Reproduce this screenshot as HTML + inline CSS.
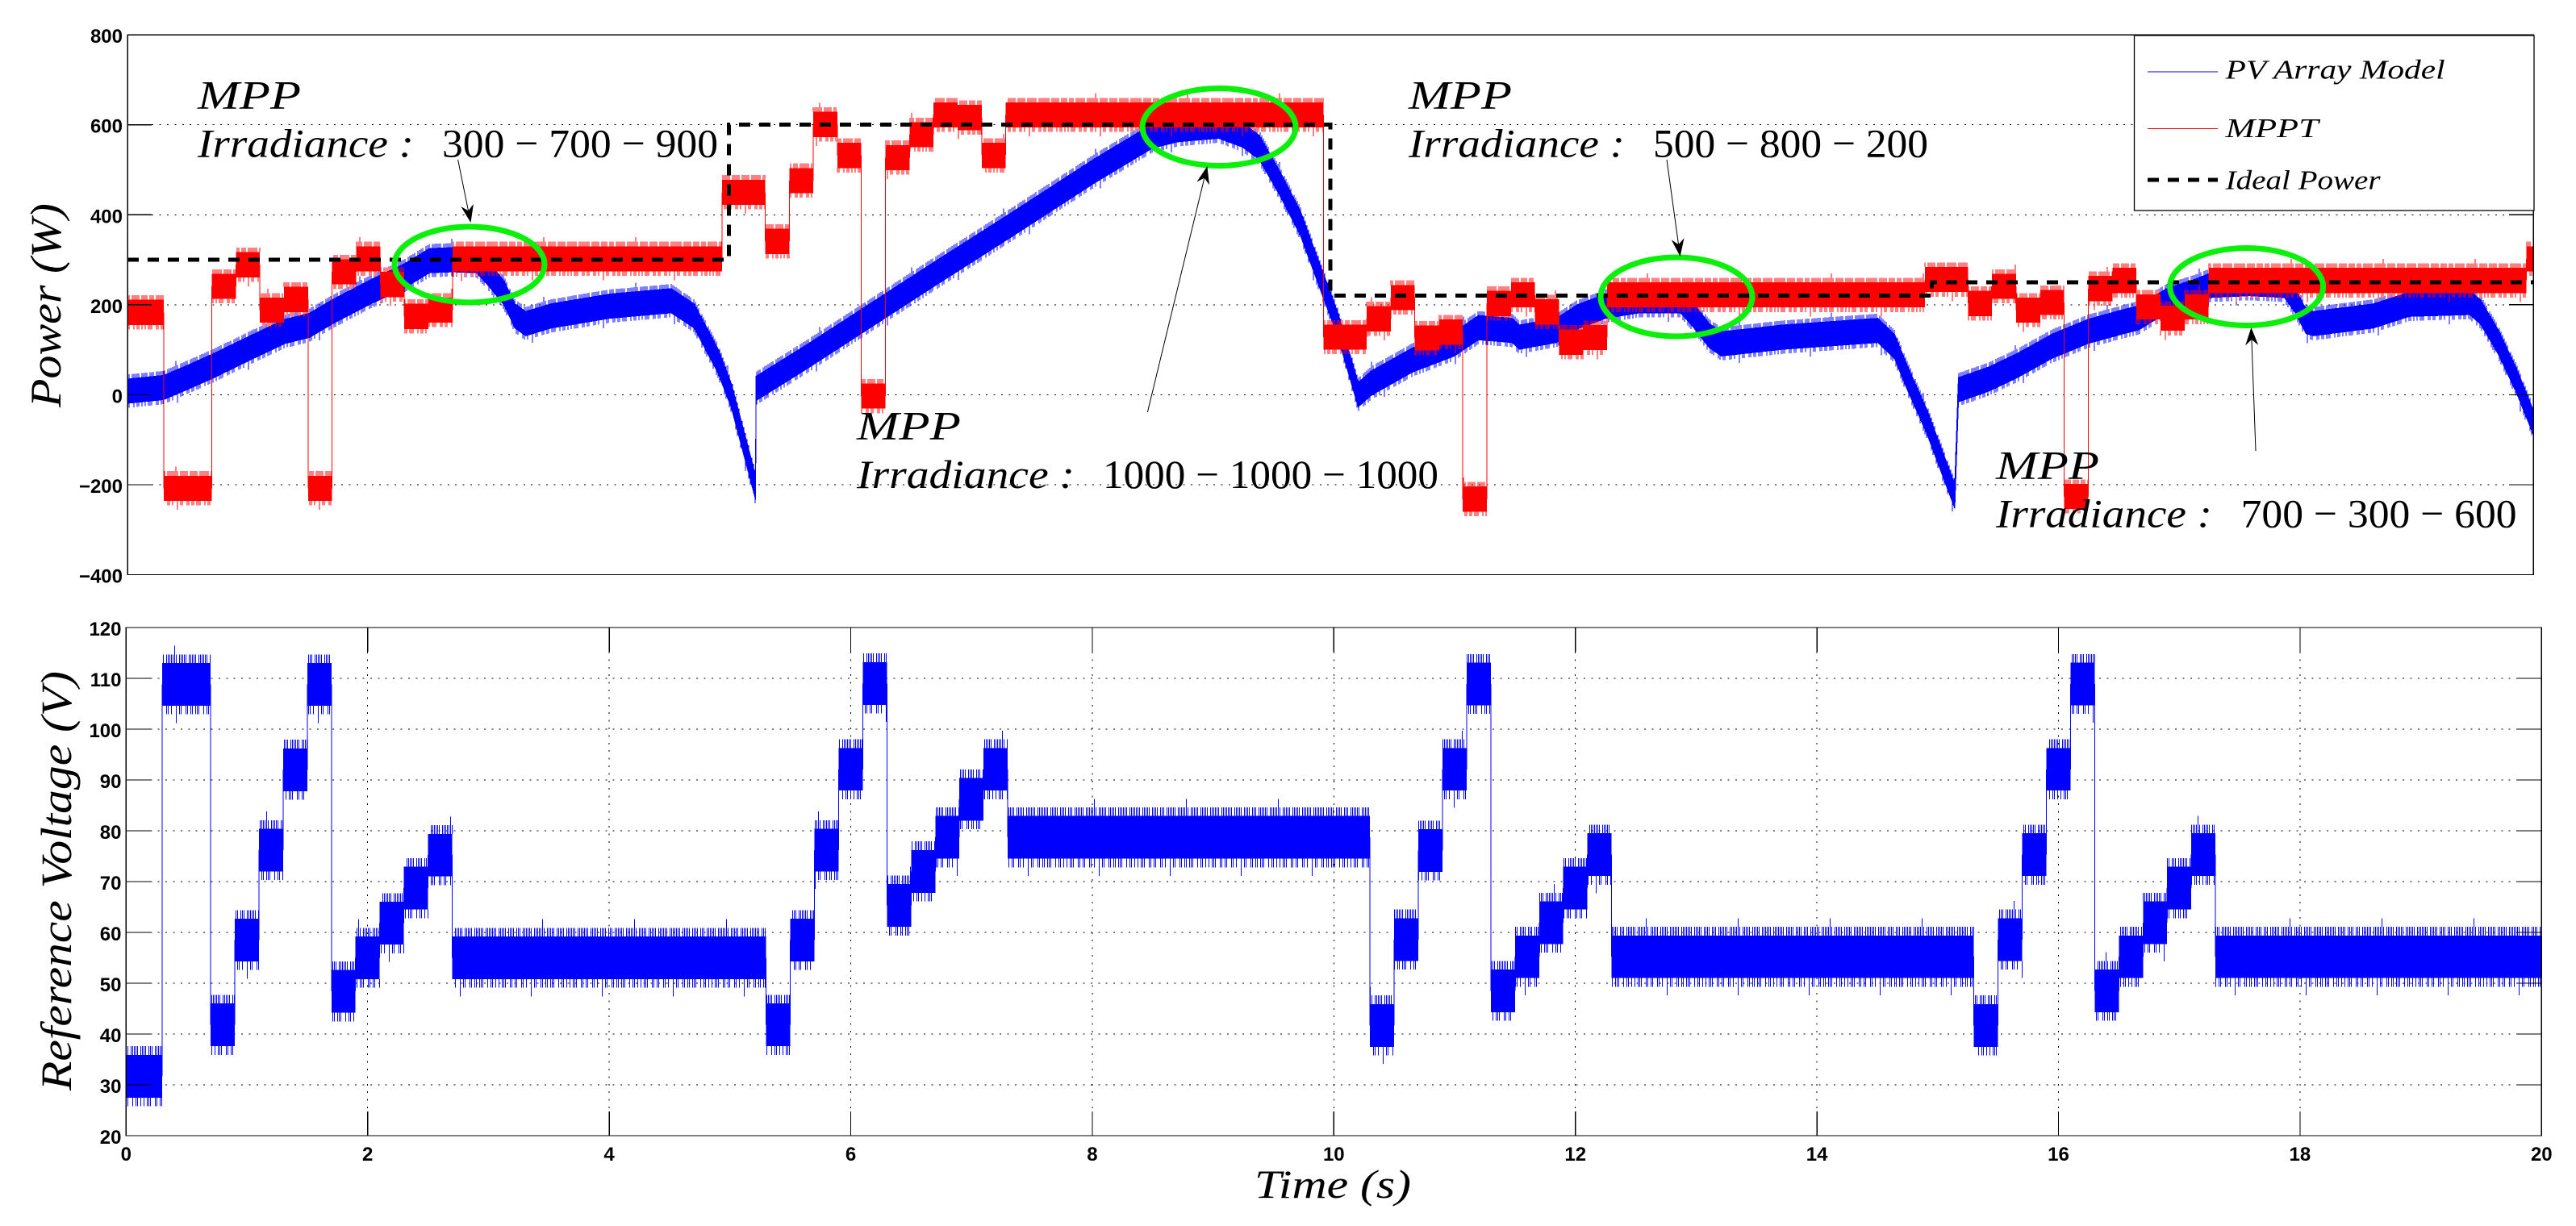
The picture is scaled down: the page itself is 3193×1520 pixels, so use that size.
<!DOCTYPE html>
<html lang="en">
<head>
<meta charset="utf-8">
<title>PV Array Power and Reference Voltage</title>
<style>
html,body{margin:0;padding:0;background:#fff;}
svg{display:block;}
.tick{font-family:"Liberation Sans",Arial,sans-serif;font-weight:700;font-size:24px;fill:#000;}
.math{font-family:"Liberation Serif",serif;font-style:italic;fill:#000;}
.roman{font-family:"Liberation Serif",serif;fill:#000;}
</style>
</head>
<body>
<svg id="chart" xmlns="http://www.w3.org/2000/svg" width="3193" height="1520" viewBox="0 0 3193 1520">
  <rect x="0" y="0" width="3193" height="1520" fill="#fff"/>
  <g id="top-grid"></g>
  <g id="bottom-grid"></g>
  <g id="top-marks"></g>
  <g id="bottom-marks"></g>
  <g id="frames"></g>
  <g id="labels"></g>

  <text class="math" font-size="54" text-anchor="middle" textLength="253" lengthAdjust="spacingAndGlyphs" transform="translate(75,378.5) rotate(-90)">Power (W)</text>
  <text class="math" font-size="54" text-anchor="middle" textLength="520" lengthAdjust="spacingAndGlyphs" transform="translate(88,1092) rotate(-90)">Reference Voltage (V)</text>
  <text class="math" font-size="50" x="1555" y="1485" textLength="194" lengthAdjust="spacingAndGlyphs">Time (s)</text>

  <g fill="none" stroke="#0af00a" stroke-width="7">
    <ellipse cx="582" cy="328" rx="93" ry="47"/>
    <ellipse cx="1511" cy="157.5" rx="95" ry="48"/>
    <ellipse cx="2078" cy="368" rx="94" ry="49"/>
    <ellipse cx="2784.6" cy="355.5" rx="95" ry="48"/>
  </g>
  <g id="arrows"></g>

  <g>
    <text class="math" font-size="50" x="245" y="134.5" textLength="128" lengthAdjust="spacingAndGlyphs">MPP</text>
    <text class="math" font-size="50" x="245" y="194.5" textLength="268" lengthAdjust="spacingAndGlyphs">Irradiance :</text>
    <text class="roman" font-size="50" x="548" y="194.5" textLength="342" lengthAdjust="spacingAndGlyphs">300 − 700 − 900</text>
  </g>
  <g>
    <text class="math" font-size="50" x="1062" y="544.5" textLength="129" lengthAdjust="spacingAndGlyphs">MPP</text>
    <text class="math" font-size="50" x="1062" y="605" textLength="270" lengthAdjust="spacingAndGlyphs">Irradiance :</text>
    <text class="roman" font-size="50" x="1367" y="605" textLength="416" lengthAdjust="spacingAndGlyphs">1000 − 1000 − 1000</text>
  </g>
  <g>
    <text class="math" font-size="50" x="1746" y="134.5" textLength="128" lengthAdjust="spacingAndGlyphs">MPP</text>
    <text class="math" font-size="50" x="1746" y="194.5" textLength="268" lengthAdjust="spacingAndGlyphs">Irradiance :</text>
    <text class="roman" font-size="50" x="2049" y="194.5" textLength="341" lengthAdjust="spacingAndGlyphs">500 − 800 − 200</text>
  </g>
  <g>
    <text class="math" font-size="50" x="2474" y="593.5" textLength="128" lengthAdjust="spacingAndGlyphs">MPP</text>
    <text class="math" font-size="50" x="2474" y="653.5" textLength="268" lengthAdjust="spacingAndGlyphs">Irradiance :</text>
    <text class="roman" font-size="50" x="2777.6" y="653.5" textLength="342" lengthAdjust="spacingAndGlyphs">700 − 300 − 600</text>
  </g>

  <g>
    <rect x="2645.5" y="44" width="495.5" height="217" fill="#fff" stroke="#000" stroke-width="1.3"/>
    <line x1="2662" x2="2749" y1="89" y2="89" stroke="#0000ff" stroke-width="1"/>
    <text class="math" font-size="34" x="2758.6" y="97.7" textLength="272" lengthAdjust="spacingAndGlyphs">PV Array Model</text>
    <line x1="2662" x2="2749" y1="159.5" y2="159.5" stroke="#ff0000" stroke-width="1"/>
    <text class="math" font-size="34" x="2758.6" y="170" textLength="115" lengthAdjust="spacingAndGlyphs">MPPT</text>
    <line x1="2662" x2="2749" y1="223" y2="223" stroke="#000" stroke-width="5" stroke-dasharray="14 11"/>
    <text class="math" font-size="34" x="2758.6" y="234.5" textLength="192" lengthAdjust="spacingAndGlyphs">Ideal Power</text>
  </g>
</svg>
<script>
// ---- Tick labels ----
const powerTicks = [800, 600, 400, 200, 0, -200, -400];
const voltageTicks = [120, 110, 100, 90, 80, 70, 60, 50, 40, 30, 20];
const timeTicks = [0, 2, 4, 6, 8, 10, 12, 14, 16, 18, 20];

// ---- Ideal power (W) step series ----
const idealTimes = [0, 5, 10, 15, 20];
const idealValues = [300, 600, 220, 250];

// ---- MPPT power (W) step series: edges in seconds, one level per interval ----
const mpptTimes = [0,.3,.7,.9,1.1,1.3,1.5,1.7,1.9,2.1,2.3,2.5,2.7,4.94,5.3,5.5,5.7,5.9,6.1,6.3,6.5,6.7,6.9,7.1,7.3,9.94,10.3,10.5,10.7,10.9,11.1,11.3,11.5,11.7,11.9,12.1,12.3,14.94,15.3,15.5,15.7,15.9,16.1,16.3,16.5,16.7,16.9,17.1,17.3,19.94,20];
const mpptValues = [183,-208,241,289,188,212,-208,273,302,245,174,188,302,450,341,476,601,532,-3,527,578,622,616,532,622,128,169,216,126,139,-232,203,222,184,117,127,222,256,203,241,188,205,-226,236,254,195,170,195,254,302];

// ---- PV array model power (W) trace ----
const pvTimes = [0,.3,.5,.71,1.01,1.31,1.51,1.7,2,2.3,2.51,2.7,2.9,3,3.13,3.22,3.31,3.52,4.01,4.52,4.71,4.91,5.02,5.22,5.225,5.65,6.1,6.67,7.36,8.04,8.52,8.73,9.07,9.27,9.41,9.58,9.75,9.92,10.06,10.23,10.34,10.68,11.03,11.23,11.51,11.57,11.88,12.05,12.29,12.57,12.91,13.01,13.15,13.25,13.76,14.55,14.69,14.79,14.96,15.19,15.22,15.475,15.71,16,16.3,16.6,16.72,16.95,17.19,17.31,17.64,17.93,18.02,18.11,18.17,18.67,18.97,19.47,19.56,19.71,19.86,20];
const pvValues = [8,16,39,64,103,141,154,184,226,264,298,300,298,269,226,175,158,175,197,209,175,74,-3,-206,14,85,163,262,380,498,575,589,597,577,549,469,381,257,157,0,26,77,113,149,143,128,143,173,197,209,209,179,131,113,128,143,107,41,-61,-226,11,35,65,108,141,163,171,209,230,243,247,243,209,163,158,175,201,205,184,116,31,-62];

// ---- Reference voltage (V) step series ----
const voltageTimes = [0,.3,.7,.9,1.1,1.3,1.5,1.7,1.9,2.1,2.3,2.5,2.7,5.3,5.5,5.7,5.9,6.1,6.3,6.5,6.7,6.9,7.1,7.3,10.3,10.5,10.7,10.9,11.1,11.3,11.5,11.7,11.9,12.1,12.3,15.3,15.5,15.7,15.9,16.1,16.3,16.5,16.7,16.9,17.1,17.3,20];
const voltageValues = [31.7,108.8,41.8,58.5,76.2,92,108.8,48.4,55,61.8,68.7,75.2,55,41.8,58.5,76.2,92.1,109,65.3,72,78.7,86.2,92.1,78.7,41.7,58.6,76.1,92.1,108.9,48.5,55.2,61.9,68.7,75.3,55.2,41.7,58.6,75.3,92.1,108.9,48.5,55.2,61.9,68.7,75.3,55.2];

// ---- Ripple: solid half-width and spike heights ----
const mpptRipple = 28;
const pvRipple = 27;
const voltageRipple = 4.2;
const spikeUp = [1,1,0,1,1,1,1,1,0,1,1,1,1,0,1,1,1,0,1,1,1,1,1,1,0,1,1,1,1,1,2,1,0,1,1,1,1,1,0,1,1,1,1,1,0,1,1,1,1,1,1,0,1,1,1,1,1];
const spikeDown = [1,1,0,0,1,0,1,1,0,1,0,1,0,1,1,1,0,0,1,1,0,1,1,0,0,1,1,0,1,0,0,2,0,1,1,0,0,1,1,0,1,1,0,1];

// ---- Axis functions ----
function xTop(t) { return 158.2 + 149.1 * t; }
function yTop(w) { return 489.4 - 0.5578 * w; }
function xBot(t) { return 156.3 + 149.7 * t; }
function yBot(v) { return 778 + (120 - v) * 6.3; }

const NS = 'http://www.w3.org/2000/svg';
function pathEl(parent, d, fill, stroke, sw) {
  const el = document.createElementNS(NS, 'path');
  el.setAttribute('d', d);
  el.setAttribute('fill', fill);
  el.setAttribute('stroke', stroke);
  el.setAttribute('stroke-width', sw);
  el.setAttribute('shape-rendering', 'crispEdges');
  parent.appendChild(el);
  return el;
}
function textEl(parent, str, x, y, anchor) {
  const el = document.createElementNS(NS, 'text');
  el.setAttribute('class', 'tick');
  el.setAttribute('x', x);
  el.setAttribute('y', y);
  el.setAttribute('text-anchor', anchor);
  el.textContent = str;
  parent.appendChild(el);
  return el;
}
function fmt(n) { return String(n).replace('-', '\u2212'); }

function levelAt(times, values, t) {
  for (let i = 0; i < values.length; i++) {
    if (t < times[i + 1]) return values[i];
  }
  return values[values.length - 1];
}
function traceAt(times, values, t) {
  for (let i = 0; i < times.length - 1; i++) {
    if (t <= times[i + 1]) {
      const f = (t - times[i]) / (times[i + 1] - times[i]);
      return values[i] + f * (values[i + 1] - values[i]);
    }
  }
  return values[values.length - 1];
}

// Step band: solid rectangles, thin connectors, spike comb
function drawSteps(parent, times, values, ripple, spikeUnit, x, y, color, nameBase, stepPx) {
  let band = '', links = '', spikes = '';
  for (let i = 0; i < values.length; i++) {
    band += 'M' + x(times[i]).toFixed(1) + ' ' + y(values[i] + ripple).toFixed(1) +
            'H' + x(times[i + 1]).toFixed(1) + 'V' + y(values[i] - ripple).toFixed(1) +
            'H' + x(times[i]).toFixed(1) + 'Z';
    if (i > 0) {
      links += 'M' + x(times[i]).toFixed(1) + ' ' + y(values[i - 1]).toFixed(1) + 'V' + y(values[i]).toFixed(1);
    }
  }
  const x0 = x(0), x1 = x(20), perPx = 20 / (x1 - x0);
  let k = 0;
  for (let px = x0; px < x1; px += stepPx, k++) {
    const lv = levelAt(times, values, (px - x0) * perPx);
    const up = spikeUp[k % spikeUp.length], dn = spikeDown[k % spikeDown.length];
    if (up) spikes += 'M' + px.toFixed(1) + ' ' + y(lv + ripple).toFixed(1) + 'V' + y(lv + ripple + up * spikeUnit).toFixed(1);
    if (dn) spikes += 'M' + px.toFixed(1) + ' ' + y(lv - ripple).toFixed(1) + 'V' + y(lv - ripple - dn * spikeUnit).toFixed(1);
  }
  const b = pathEl(parent, band, color, 'none', 0);
  
  
  const l = pathEl(parent, links, 'none', color, 1);
  
  
  const s = pathEl(parent, spikes, 'none', color, 1);
  
  
}

// Continuous band for the PV model trace
function drawTrace(parent, times, values, ripple, spikeUnit, x, y, color, nameBase, stepPx) {
  let upper = '', lower = '';
  for (let i = 0; i < times.length; i++) {
    upper += (i ? 'L' : 'M') + x(times[i]).toFixed(1) + ' ' + y(values[i] + ripple).toFixed(1);
  }
  for (let i = times.length - 1; i >= 0; i--) {
    lower += 'L' + x(times[i]).toFixed(1) + ' ' + y(values[i] - ripple).toFixed(1);
  }
  let spikes = '';
  const x0 = x(0), x1 = x(20), perPx = 20 / (x1 - x0);
  let k = 0;
  for (let px = x0; px < x1; px += stepPx, k++) {
    const v = traceAt(times, values, (px - x0) * perPx);
    const up = spikeUp[k % spikeUp.length], dn = spikeDown[k % spikeDown.length];
    if (up) spikes += 'M' + px.toFixed(1) + ' ' + y(v + ripple).toFixed(1) + 'V' + y(v + ripple + up * spikeUnit).toFixed(1);
    if (dn) spikes += 'M' + px.toFixed(1) + ' ' + y(v - ripple).toFixed(1) + 'V' + y(v - ripple - dn * spikeUnit).toFixed(1);
  }
  const b = pathEl(parent, upper + lower + 'Z', color, color, 1);
  
  
  const s = pathEl(parent, spikes, 'none', color, 1);
  
  
}

// ---- Grid, ticks, frames ----
const topGrid = document.getElementById('top-grid');
const bottomGrid = document.getElementById('bottom-grid');
const frames = document.getElementById('frames');
const labels = document.getElementById('labels');
const TICK = 30;

let gridTop = '', ticksTop = '';
powerTicks.forEach(function (w) {
  const py = yTop(w).toFixed(1);
  if (w !== 800 && w !== -400) {
    gridTop += 'M' + (xTop(0) + TICK) + ' ' + py + 'H' + (xTop(20) - TICK);
    ticksTop += 'M' + xTop(0) + ' ' + py + 'h' + TICK + 'M' + xTop(20) + ' ' + py + 'h-' + TICK;
  }
  const lab = textEl(labels, fmt(w), 152, yTop(w) + 10, 'end');
  
  
});
const gt = pathEl(topGrid, gridTop, 'none', '#000', 1);
gt.setAttribute('stroke-dasharray', '2 7.4');



let gridBot = '', ticksBot = '';
voltageTicks.forEach(function (v) {
  const py = yBot(v).toFixed(1);
  if (v !== 120 && v !== 20) {
    gridBot += 'M' + (xBot(0) + TICK) + ' ' + py + 'H' + (xBot(20) - TICK);
    ticksBot += 'M' + xBot(0) + ' ' + py + 'h' + TICK + 'M' + xBot(20) + ' ' + py + 'h-' + TICK;
  }
  const lab = textEl(labels, fmt(v), 150.5, yBot(v) + 10, 'end');
  
  
});
timeTicks.forEach(function (t) {
  const px = xBot(t).toFixed(1);
  if (t !== 0 && t !== 20) {
    gridBot += 'M' + px + ' ' + (yBot(120) + TICK) + 'V' + (yBot(20) - TICK);
    ticksBot += 'M' + px + ' ' + yBot(120) + 'v' + TICK + 'M' + px + ' ' + yBot(20) + 'v-' + TICK;
  }
  const lab = textEl(labels, fmt(t), xBot(t), 1439, 'middle');
  
  
});
const gb = pathEl(bottomGrid, gridBot, 'none', '#000', 1);
gb.setAttribute('stroke-dasharray', '2 7.4');



// ---- Series ----
const topMarks = document.getElementById('top-marks');
const bottomMarks = document.getElementById('bottom-marks');
drawTrace(topMarks, pvTimes, pvValues, pvRipple, 10, xTop, yTop, '#0000ff', 'pv-array-model', 2);
drawSteps(topMarks, mpptTimes, mpptValues, mpptRipple, 10, xTop, yTop, '#ff0000', 'mppt', 2);

let ideal = '';
idealValues.forEach(function (w, i) {
  ideal += (i ? 'L' : 'M') + xTop(idealTimes[i]).toFixed(1) + ' ' + yTop(w).toFixed(1) +
           'L' + xTop(idealTimes[i + 1]).toFixed(1) + ' ' + yTop(w).toFixed(1);
});
const idealPath = pathEl(topMarks, ideal, 'none', '#000', 5);
idealPath.setAttribute('stroke-dasharray', '14 11');



drawSteps(bottomMarks, voltageTimes, voltageValues, voltageRipple, 1.7, xBot, yBot, '#0000ff', 'reference-voltage', 2);

// ---- Frames ----
const tf = pathEl(frames, 'M' + xTop(0) + ' ' + yTop(800) + 'H' + xTop(20) + 'V' + yTop(-400) + 'H' + xTop(0) + 'Z' + ticksTop, 'none', '#000', 1.3);


const bf = pathEl(frames, 'M' + xBot(0) + ' ' + yBot(120) + 'H' + xBot(20) + 'V' + yBot(20) + 'H' + xBot(0) + 'Z' + ticksBot, 'none', '#000', 1.3);



// ---- Annotation arrows ----
function arrow(parent, name, x0, y0, x1, y1) {
  const dx = x1 - x0, dy = y1 - y0, len = Math.sqrt(dx * dx + dy * dy);
  const ux = dx / len, uy = dy / len, nx = -uy, ny = ux;
  const L = 22, W = 8, N = 15;
  const line = document.createElementNS(NS, 'line');
  line.setAttribute('x1', x0);
  line.setAttribute('y1', y0);
  line.setAttribute('x2', x1 - ux * N);
  line.setAttribute('y2', y1 - uy * N);
  line.setAttribute('stroke', '#000');
  line.setAttribute('stroke-width', '1');
  
  
  parent.appendChild(line);
  const head = document.createElementNS(NS, 'polygon');
  head.setAttribute('points',
    x1 + ',' + y1 + ' ' +
    (x1 - ux * L + nx * W) + ',' + (y1 - uy * L + ny * W) + ' ' +
    (x1 - ux * N) + ',' + (y1 - uy * N) + ' ' +
    (x1 - ux * L - nx * W) + ',' + (y1 - uy * L - ny * W));
  head.setAttribute('fill', '#000');
  
  
  parent.appendChild(head);
}
const arrowsGroup = document.getElementById('arrows');
arrow(arrowsGroup, 'arrow-1', 567.6, 198, 583.5, 276);
arrow(arrowsGroup, 'arrow-2', 1422.4, 511, 1496.4, 206);
arrow(arrowsGroup, 'arrow-3', 2066, 198, 2082.6, 318);
arrow(arrowsGroup, 'arrow-4', 2796, 559, 2790.4, 406);
</script>
</body>
</html>
